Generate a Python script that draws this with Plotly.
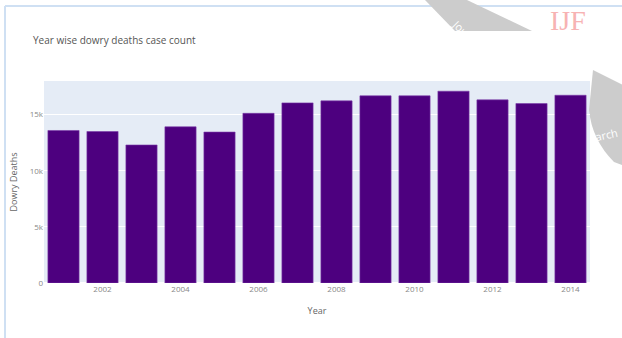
import plotly.graph_objects as go

years = list(range(2001, 2015))
deaths = [13590, 13500, 12300, 13920, 13450, 15120, 16050, 16230, 16680, 16680, 17090, 16320, 15990, 16730]
y_ticks = [0, 5000, 10000, 15000]
y_tick_labels = ["0", "5k", "10k", "15k"]
x_ticks = [2002, 2004, 2006, 2008, 2010, 2012, 2014]

W, H = 622, 338
L, R, T, B = 44, 32, 81, 55
PW, PH = W - L - R, H - T - B


def px(x):
    return (x - L) / PW


def py(y):
    return (H - B - y) / PH


fig = go.Figure(
    go.Bar(
        x=years,
        y=deaths,
        marker=dict(color="#4d007f", line=dict(color="#7a3aa8", width=0.6)),
    )
)

shapes = [
    # light blue frame
    dict(type="line", xref="paper", yref="paper", x0=px(5), x1=px(5), y0=py(6), y1=py(340),
         line=dict(color="#cfe0f3", width=2), layer="below"),
    dict(type="line", xref="paper", yref="paper", x0=px(5), x1=px(625), y0=py(6), y1=py(6),
         line=dict(color="#cfe0f3", width=2), layer="below"),
    # watermark swoosh top
    dict(type="path", xref="paper", yref="paper", layer="below",
         path=f"M {px(425)},{py(0)} L {px(467)},{py(0)} L {px(532)},{py(31)} L {px(455)},{py(31)} Z",
         fillcolor="#cccccc", line=dict(width=0)),
    # watermark right piece
    dict(type="path", xref="paper", yref="paper", layer="below",
         path=(f"M {px(593)},{py(70)} L {px(625)},{py(86)} L {px(625)},{py(166)} "
               f"L {px(614)},{py(162)} Q {px(592)},{py(140)} {px(589)},{py(110)} Z"),
         fillcolor="#cccccc", line=dict(width=0)),
]

annotations = [
    dict(text="IJF", xref="paper", yref="paper", x=px(548), y=py(21), xanchor="left", yanchor="middle",
         showarrow=False, font=dict(family="Liberation Serif", size=28, color="#f7b3b3")),
    dict(text="Jour", xref="paper", yref="paper", x=px(478), y=py(14), showarrow=False, textangle=45,
         font=dict(family="Open Sans", size=11, color="white")),
    dict(text="arch", xref="paper", yref="paper", x=px(591), y=py(122), xanchor="left", showarrow=False,
         textangle=-12, font=dict(family="Open Sans", size=11, color="white")),
]

fig.update_layout(
    width=W,
    height=H,
    margin=dict(l=L, r=R, t=T, b=B, pad=0, autoexpand=False),
    template="plotly",
    paper_bgcolor="white",
    plot_bgcolor="#e5ecf6",
    bargap=0.2,
    showlegend=False,
    font=dict(family="Open Sans", size=8, color="#777"),
    title=dict(text="Year wise dowry deaths case count", x=33 / W, xanchor="left",
               y=1 - 40 / H, yanchor="middle",
               font=dict(family="Open Sans", size=10, color="#555")),
    xaxis=dict(
        title=dict(text="Year", font=dict(size=9, color="#666"), standoff=14),
        tickmode="array", tickvals=x_ticks, ticktext=[str(t) for t in x_ticks],
        tickfont=dict(size=8, color="#888"),
        showgrid=False,
        automargin=False,
        range=[2000.5, 2014.5],
    ),
    yaxis=dict(
        title=dict(text="Dowry Deaths", font=dict(size=9, color="#666"), standoff=10),
        tickmode="array", tickvals=y_ticks, ticktext=y_tick_labels,
        tickfont=dict(size=8, color="#888"),
        gridcolor="white",
        automargin=False,
        range=[0, 18000],
        zeroline=True, zerolinecolor="white",
    ),
    shapes=shapes,
    annotations=annotations,
)

fig.write_html("out.html")
